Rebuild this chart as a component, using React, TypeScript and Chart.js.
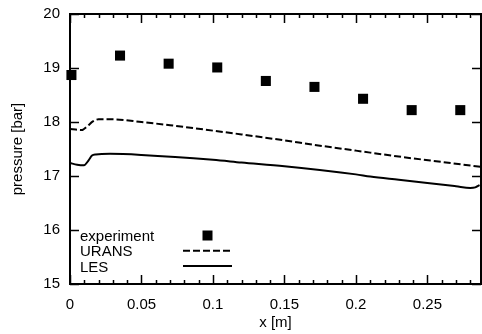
import React, { useEffect, useRef } from 'react';
import { Chart, registerables } from 'chart.js';

Chart.register(...registerables);

// ---- data ----
const expX = [0.001, 0.035, 0.069, 0.103, 0.137, 0.171, 0.205, 0.239, 0.273];
const expP = [18.87, 19.23, 19.08, 19.01, 18.76, 18.65, 18.43, 18.22, 18.22];

const uransX = [0, 0.004, 0.008, 0.012, 0.016, 0.02, 0.03, 0.05, 0.07, 0.1, 0.12, 0.15, 0.17, 0.2, 0.23, 0.26, 0.2875];
const uransP = [17.87, 17.86, 17.85, 17.92, 18.01, 18.05, 18.05, 18.0, 17.94, 17.84, 17.77, 17.66, 17.58, 17.47, 17.36, 17.26, 17.17];

const lesX = [0, 0.005, 0.0098, 0.013, 0.0154, 0.018, 0.028, 0.05, 0.1, 0.12, 0.15, 0.2, 0.21, 0.23, 0.25, 0.27, 0.28, 0.2835, 0.2865];
const lesP = [17.24, 17.21, 17.2, 17.29, 17.38, 17.4, 17.41, 17.39, 17.3, 17.25, 17.18, 17.03, 16.99, 16.93, 16.87, 16.81, 16.78, 16.79, 16.83];

const xTicks = [0, 0.05, 0.1, 0.15, 0.2, 0.25];
const yTicks = [15, 16, 17, 18, 19, 20];
const xMin = 0;
const xMax = 0.2875;
const xMinorStep = 0.01;
const seriesNames = ['experiment', 'URANS', 'LES'];
const xTitle = 'x [m]';
const yTitle = 'pressure [bar]';

const FONT = '"Liberation Sans", Arial, Helvetica, sans-serif';
const DASH = [7, 3];

const framePlugin = {
  id: 'frame',
  beforeDatasetsDraw(chart: any) {
    const { ctx, chartArea: a, scales } = chart;
    const xs = scales.x;
    const ys = scales.y;
    ctx.save();
    ctx.strokeStyle = '#000';
    ctx.lineWidth = 1.5;
    ctx.beginPath();
    const n = Math.floor((xMax - xMin) / xMinorStep + 1e-9);
    for (let i = 0; i <= n; i++) {
      const v = xMin + i * xMinorStep;
      const px = Math.round(xs.getPixelForValue(v)) + 0.5;
      const major = xTicks.some((t) => Math.abs(t - v) < 1e-9);
      const len = major ? 9 : 4;
      ctx.moveTo(px, a.bottom);
      ctx.lineTo(px, a.bottom - len);
      ctx.moveTo(px, a.top);
      ctx.lineTo(px, a.top + len);
    }
    yTicks.forEach((v) => {
      const py = Math.round(ys.getPixelForValue(v)) + 0.5;
      ctx.moveTo(a.left, py);
      ctx.lineTo(a.left + 9, py);
      ctx.moveTo(a.right, py);
      ctx.lineTo(a.right - 9, py);
    });
    ctx.stroke();
    ctx.lineWidth = 2;
    ctx.strokeRect(a.left, a.top, a.right - a.left, a.bottom - a.top);
    ctx.restore();
  },
};

const legendPlugin = {
  id: 'customLegend',
  afterDraw(chart: any) {
    const { ctx, chartArea: a } = chart;
    const textX = a.left + 10;
    const rowH = 15.3;
    const base0 = a.bottom - 43;
    const symL = a.left + 113;
    const symR = a.left + 162;
    const symC = (symL + symR) / 2;
    ctx.save();
    ctx.fillStyle = '#000';
    ctx.strokeStyle = '#000';
    ctx.font = `15px ${FONT}`;
    ctx.textAlign = 'left';
    ctx.textBaseline = 'alphabetic';
    seriesNames.forEach((name, i) => {
      const base = base0 + i * rowH;
      ctx.fillText(name, textX, base);
      const cy = base - 5.5;
      if (i === 0) {
        ctx.fillRect(symC - 5, cy - 5, 10, 10);
      } else {
        ctx.beginPath();
        ctx.lineWidth = 2;
        ctx.setLineDash(i === 1 ? DASH : []);
        ctx.moveTo(symL, cy);
        ctx.lineTo(symR, cy);
        ctx.stroke();
      }
    });
    ctx.restore();
  },
};

export default function App() {
  const ref = useRef<HTMLCanvasElement | null>(null);
  useEffect(() => {
    document.body.style.margin = '0';
    const canvas = ref.current;
    if (!canvas) return;
    const chart = new Chart(canvas, {
      type: 'scatter',
      data: {
        datasets: [
          {
            label: seriesNames[0],
            data: expX.map((x, i) => ({ x, y: expP[i] })),
            pointStyle: 'rect',
            pointRadius: 7.1,
            pointBackgroundColor: '#000',
            pointBorderWidth: 0,
            showLine: false,
            clip: false as any,
          },
          {
            label: seriesNames[1],
            data: uransX.map((x, i) => ({ x, y: uransP[i] })),
            showLine: true,
            borderColor: '#000',
            borderWidth: 2,
            borderDash: DASH,
            pointRadius: 0,
            cubicInterpolationMode: 'monotone',
          },
          {
            label: seriesNames[2],
            data: lesX.map((x, i) => ({ x, y: lesP[i] })),
            showLine: true,
            borderColor: '#000',
            borderWidth: 2,
            pointRadius: 0,
            cubicInterpolationMode: 'monotone',
          },
        ],
      } as any,
      plugins: [framePlugin, legendPlugin],
      options: {
        animation: false,
        responsive: false,
        devicePixelRatio: 1,
        layout: { autoPadding: false, padding: { top: 14, right: 1, left: 0, bottom: 0 } },
        plugins: { legend: { display: false }, tooltip: { enabled: false } },
        scales: {
          x: {
            type: 'linear',
            min: xMin,
            max: xMax,
            grid: { display: false, drawTicks: false },
            border: { display: false },
            afterBuildTicks: (s: any) => {
              s.ticks = xTicks.map((v) => ({ value: v }));
            },
            afterFit: (s: any) => {
              s.height = 50;
              s.paddingLeft = 0;
              s.paddingRight = 0;
            },
            ticks: {
              padding: 12,
              color: '#000',
              font: { family: FONT, size: 15 },
              maxRotation: 0,
              callback: (v: any) => String(Number(Number(v).toFixed(3))),
            },
            title: {
              display: true,
              text: xTitle,
              color: '#000',
              font: { family: FONT, size: 15 },
              padding: { top: 0, bottom: 2 },
            },
          },
          y: {
            type: 'linear',
            min: 15,
            max: 20,
            grid: { display: false, drawTicks: false },
            border: { display: false },
            afterBuildTicks: (s: any) => {
              s.ticks = yTicks.map((v) => ({ value: v }));
            },
            afterFit: (s: any) => {
              s.width = 70;
              s.paddingTop = 0;
              s.paddingBottom = 0;
            },
            ticks: {
              padding: 10,
              color: '#000',
              font: { family: FONT, size: 15 },
              callback: (v: any) => String(v),
            },
            title: {
              display: true,
              text: yTitle,
              color: '#000',
              font: { family: FONT, size: 15 },
              padding: { top: 9, bottom: 0 },
            },
          },
        },
      } as any,
    });
    return () => chart.destroy();
  }, []);
  return (
    <canvas
      ref={ref}
      width={482}
      height={334}
      style={{ display: 'block', width: 482, height: 334 }}
    />
  );
}
